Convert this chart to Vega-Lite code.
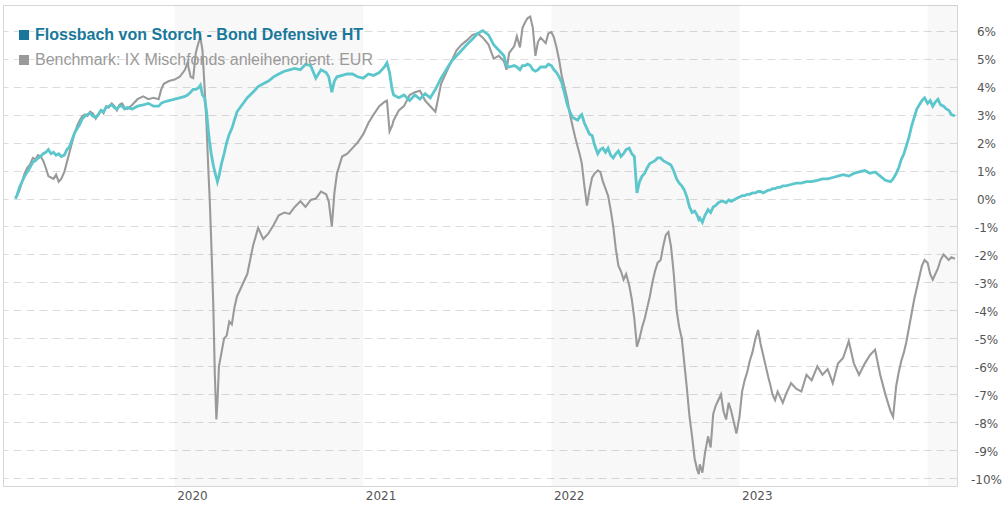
{
  "$schema": "https://vega.github.io/schema/vega-lite/v6.json",
  "width": 954,
  "height": 481,
  "autosize": {"type": "none"},
  "padding": {"left": 3, "top": 5, "right": 49, "bottom": 25},
  "background": "white",
  "config": {"view": {"stroke": "#d6d6d6", "strokeWidth": 1}, "font": "DejaVu Sans"},
  "datasets": {
    "bands": [
      {"s": "2020-01-01", "e": "2021-01-01"},
      {"s": "2022-01-01", "e": "2023-01-01"},
      {"s": "2024-01-01", "e": "2025-01-01"}
    ],
    "perf": [
      {"d":"2019-02-26","f":0.0,"b":0.0},
      {"d":"2019-03-01","f":0.1,"b":0.1},
      {"d":"2019-03-06","f":0.4,"b":0.3},
      {"d":"2019-03-11","f":0.6,"b":0.6},
      {"d":"2019-03-16","f":0.8,"b":0.9},
      {"d":"2019-03-21","f":0.95,"b":1.1},
      {"d":"2019-03-26","f":1.1,"b":1.2},
      {"d":"2019-04-01","f":1.3,"b":1.45},
      {"d":"2019-04-06","f":1.35,"b":1.4},
      {"d":"2019-04-11","f":1.45,"b":1.55},
      {"d":"2019-04-16","f":1.5,"b":1.5},
      {"d":"2019-04-21","f":1.6,"b":1.35},
      {"d":"2019-04-26","f":1.65,"b":1.1},
      {"d":"2019-05-01","f":1.75,"b":0.8},
      {"d":"2019-05-06","f":1.6,"b":0.75},
      {"d":"2019-05-11","f":1.65,"b":0.7},
      {"d":"2019-05-16","f":1.55,"b":0.85},
      {"d":"2019-05-21","f":1.6,"b":0.6},
      {"d":"2019-05-26","f":1.5,"b":0.7},
      {"d":"2019-06-01","f":1.55,"b":0.95},
      {"d":"2019-06-06","f":1.75,"b":1.3},
      {"d":"2019-06-11","f":1.85,"b":1.65},
      {"d":"2019-06-16","f":2.1,"b":2.0},
      {"d":"2019-06-21","f":2.35,"b":2.35},
      {"d":"2019-06-26","f":2.5,"b":2.6},
      {"d":"2019-07-01","f":2.65,"b":2.8},
      {"d":"2019-07-06","f":2.85,"b":2.95},
      {"d":"2019-07-11","f":2.95,"b":3.0},
      {"d":"2019-07-16","f":3.0,"b":2.95},
      {"d":"2019-07-21","f":3.05,"b":3.1},
      {"d":"2019-07-26","f":2.95,"b":3.05},
      {"d":"2019-08-01","f":2.9,"b":2.85},
      {"d":"2019-08-06","f":3.0,"b":3.0},
      {"d":"2019-08-11","f":3.15,"b":3.15},
      {"d":"2019-08-16","f":3.1,"b":3.05},
      {"d":"2019-08-21","f":3.25,"b":3.3},
      {"d":"2019-08-26","f":3.3,"b":3.25},
      {"d":"2019-09-01","f":3.35,"b":3.4},
      {"d":"2019-09-06","f":3.25,"b":3.3},
      {"d":"2019-09-11","f":3.2,"b":3.15},
      {"d":"2019-09-16","f":3.3,"b":3.35},
      {"d":"2019-09-21","f":3.3,"b":3.4},
      {"d":"2019-09-26","f":3.2,"b":3.25},
      {"d":"2019-10-01","f":3.25,"b":3.2},
      {"d":"2019-10-11","f":3.2,"b":3.35},
      {"d":"2019-10-21","f":3.3,"b":3.55},
      {"d":"2019-11-01","f":3.35,"b":3.65},
      {"d":"2019-11-11","f":3.4,"b":3.55},
      {"d":"2019-11-21","f":3.3,"b":3.6},
      {"d":"2019-12-01","f":3.3,"b":3.55},
      {"d":"2019-12-06","f":3.4,"b":3.9},
      {"d":"2019-12-11","f":3.45,"b":4.1},
      {"d":"2019-12-21","f":3.5,"b":4.2},
      {"d":"2020-01-01","f":3.55,"b":4.25},
      {"d":"2020-01-11","f":3.6,"b":4.35},
      {"d":"2020-01-21","f":3.65,"b":4.6},
      {"d":"2020-01-26","f":3.7,"b":4.85},
      {"d":"2020-02-01","f":3.8,"b":4.35},
      {"d":"2020-02-06","f":3.9,"b":4.3},
      {"d":"2020-02-11","f":3.9,"b":5.2},
      {"d":"2020-02-16","f":3.95,"b":5.55},
      {"d":"2020-02-20","f":4.05,"b":5.75},
      {"d":"2020-02-24","f":3.7,"b":5.3},
      {"d":"2020-02-28","f":3.6,"b":4.0},
      {"d":"2020-03-03","f":3.1,"b":2.6},
      {"d":"2020-03-06","f":2.5,"b":1.2},
      {"d":"2020-03-09","f":2.0,"b":0.0},
      {"d":"2020-03-12","f":1.6,"b":-1.5},
      {"d":"2020-03-16","f":1.2,"b":-3.8},
      {"d":"2020-03-19","f":0.95,"b":-6.3},
      {"d":"2020-03-22","f":0.75,"b":-7.9},
      {"d":"2020-03-24","f":0.6,"b":-7.3},
      {"d":"2020-03-27","f":0.8,"b":-6.0},
      {"d":"2020-04-01","f":1.25,"b":-5.5},
      {"d":"2020-04-06","f":1.6,"b":-5.0},
      {"d":"2020-04-11","f":2.0,"b":-4.9},
      {"d":"2020-04-16","f":2.3,"b":-4.4},
      {"d":"2020-04-21","f":2.5,"b":-4.5},
      {"d":"2020-04-26","f":2.8,"b":-3.9},
      {"d":"2020-05-01","f":3.1,"b":-3.5},
      {"d":"2020-05-11","f":3.35,"b":-3.1},
      {"d":"2020-05-21","f":3.6,"b":-2.7},
      {"d":"2020-06-01","f":3.8,"b":-1.7},
      {"d":"2020-06-11","f":4.0,"b":-1.05},
      {"d":"2020-06-21","f":4.1,"b":-1.45},
      {"d":"2020-07-01","f":4.2,"b":-1.25},
      {"d":"2020-07-11","f":4.35,"b":-0.95},
      {"d":"2020-07-21","f":4.45,"b":-0.6},
      {"d":"2020-08-01","f":4.55,"b":-0.5},
      {"d":"2020-08-11","f":4.6,"b":-0.55},
      {"d":"2020-08-21","f":4.65,"b":-0.3},
      {"d":"2020-09-01","f":4.6,"b":-0.1},
      {"d":"2020-09-11","f":4.8,"b":-0.3},
      {"d":"2020-09-21","f":4.75,"b":-0.05},
      {"d":"2020-10-01","f":4.3,"b":0.0},
      {"d":"2020-10-11","f":4.6,"b":0.25},
      {"d":"2020-10-21","f":4.5,"b":0.15},
      {"d":"2020-10-26","f":4.35,"b":-0.1},
      {"d":"2020-11-01","f":3.8,"b":-1.0},
      {"d":"2020-11-06","f":4.2,"b":0.2},
      {"d":"2020-11-11","f":4.35,"b":0.9},
      {"d":"2020-11-21","f":4.4,"b":1.5},
      {"d":"2020-12-01","f":4.45,"b":1.6},
      {"d":"2020-12-11","f":4.45,"b":1.8},
      {"d":"2020-12-21","f":4.35,"b":2.0},
      {"d":"2021-01-01","f":4.3,"b":2.3},
      {"d":"2021-01-11","f":4.45,"b":2.7},
      {"d":"2021-01-21","f":4.4,"b":3.0},
      {"d":"2021-02-01","f":4.5,"b":3.3},
      {"d":"2021-02-11","f":4.7,"b":3.45},
      {"d":"2021-02-16","f":4.85,"b":3.5},
      {"d":"2021-02-21","f":4.5,"b":2.4},
      {"d":"2021-02-26","f":3.9,"b":2.6},
      {"d":"2021-03-01","f":3.7,"b":2.8},
      {"d":"2021-03-11","f":3.6,"b":3.15},
      {"d":"2021-03-21","f":3.7,"b":3.3},
      {"d":"2021-04-01","f":3.5,"b":3.7},
      {"d":"2021-04-11","f":3.7,"b":3.8},
      {"d":"2021-04-21","f":3.55,"b":3.85},
      {"d":"2021-05-01","f":3.75,"b":3.5},
      {"d":"2021-05-11","f":3.6,"b":3.3},
      {"d":"2021-05-21","f":3.9,"b":3.1},
      {"d":"2021-06-01","f":4.3,"b":4.1},
      {"d":"2021-06-11","f":4.6,"b":4.5},
      {"d":"2021-06-21","f":4.9,"b":4.9},
      {"d":"2021-07-01","f":5.1,"b":5.3},
      {"d":"2021-07-11","f":5.3,"b":5.5},
      {"d":"2021-07-21","f":5.5,"b":5.65},
      {"d":"2021-08-01","f":5.7,"b":5.85},
      {"d":"2021-08-11","f":5.9,"b":5.9},
      {"d":"2021-08-21","f":6.0,"b":5.75},
      {"d":"2021-09-01","f":5.85,"b":5.5},
      {"d":"2021-09-11","f":5.5,"b":5.0},
      {"d":"2021-09-21","f":5.3,"b":5.1},
      {"d":"2021-10-01","f":5.1,"b":4.9},
      {"d":"2021-10-06","f":4.75,"b":4.6},
      {"d":"2021-10-11","f":4.7,"b":5.2},
      {"d":"2021-10-21","f":4.75,"b":5.45},
      {"d":"2021-10-26","f":4.7,"b":5.8},
      {"d":"2021-11-01","f":4.6,"b":5.4},
      {"d":"2021-11-06","f":4.75,"b":6.1},
      {"d":"2021-11-11","f":4.75,"b":6.3},
      {"d":"2021-11-16","f":4.8,"b":6.45},
      {"d":"2021-11-21","f":4.75,"b":6.5},
      {"d":"2021-11-26","f":4.6,"b":6.1},
      {"d":"2021-12-01","f":4.55,"b":5.1},
      {"d":"2021-12-06","f":4.6,"b":5.6},
      {"d":"2021-12-11","f":4.7,"b":5.75},
      {"d":"2021-12-21","f":4.7,"b":5.55},
      {"d":"2021-12-26","f":4.8,"b":5.9},
      {"d":"2022-01-01","f":4.75,"b":5.95},
      {"d":"2022-01-06","f":4.6,"b":5.75},
      {"d":"2022-01-11","f":4.5,"b":5.4},
      {"d":"2022-01-16","f":4.35,"b":4.95},
      {"d":"2022-01-21","f":4.15,"b":4.4},
      {"d":"2022-01-26","f":3.8,"b":4.0},
      {"d":"2022-02-01","f":3.35,"b":3.55},
      {"d":"2022-02-06","f":3.1,"b":3.0},
      {"d":"2022-02-11","f":2.9,"b":2.6},
      {"d":"2022-02-16","f":2.85,"b":2.2},
      {"d":"2022-02-21","f":2.8,"b":1.85},
      {"d":"2022-02-26","f":2.95,"b":1.5},
      {"d":"2022-03-01","f":3.0,"b":1.25},
      {"d":"2022-03-06","f":2.7,"b":0.45},
      {"d":"2022-03-11","f":2.5,"b":-0.25},
      {"d":"2022-03-16","f":2.3,"b":0.3},
      {"d":"2022-03-21","f":2.25,"b":0.75},
      {"d":"2022-03-26","f":1.9,"b":0.9},
      {"d":"2022-04-01","f":1.6,"b":1.0},
      {"d":"2022-04-06","f":1.75,"b":0.95},
      {"d":"2022-04-11","f":1.8,"b":0.6},
      {"d":"2022-04-16","f":1.65,"b":0.35},
      {"d":"2022-04-21","f":1.8,"b":0.1},
      {"d":"2022-04-26","f":1.55,"b":-0.4},
      {"d":"2022-05-01","f":1.45,"b":-1.0},
      {"d":"2022-05-06","f":1.6,"b":-1.8},
      {"d":"2022-05-11","f":1.7,"b":-2.4},
      {"d":"2022-05-16","f":1.5,"b":-2.6},
      {"d":"2022-05-21","f":1.6,"b":-2.9},
      {"d":"2022-05-26","f":1.75,"b":-2.7},
      {"d":"2022-06-01","f":1.8,"b":-3.1},
      {"d":"2022-06-06","f":1.6,"b":-3.6},
      {"d":"2022-06-11","f":1.5,"b":-4.3},
      {"d":"2022-06-16","f":0.2,"b":-5.3},
      {"d":"2022-06-21","f":0.6,"b":-5.0},
      {"d":"2022-06-26","f":0.8,"b":-4.6},
      {"d":"2022-07-01","f":0.9,"b":-4.3},
      {"d":"2022-07-06","f":1.1,"b":-3.9},
      {"d":"2022-07-11","f":1.25,"b":-3.5},
      {"d":"2022-07-16","f":1.3,"b":-3.0},
      {"d":"2022-07-21","f":1.35,"b":-2.6},
      {"d":"2022-07-26","f":1.45,"b":-2.3},
      {"d":"2022-08-01","f":1.45,"b":-2.2},
      {"d":"2022-08-06","f":1.35,"b":-1.7},
      {"d":"2022-08-11","f":1.3,"b":-1.3},
      {"d":"2022-08-16","f":1.25,"b":-1.2},
      {"d":"2022-08-21","f":1.2,"b":-1.7},
      {"d":"2022-08-26","f":1.0,"b":-2.6},
      {"d":"2022-09-01","f":0.7,"b":-4.0},
      {"d":"2022-09-06","f":0.55,"b":-4.6},
      {"d":"2022-09-11","f":0.45,"b":-5.0},
      {"d":"2022-09-16","f":0.3,"b":-5.9},
      {"d":"2022-09-21","f":0.05,"b":-6.8},
      {"d":"2022-09-26","f":-0.3,"b":-7.8},
      {"d":"2022-10-01","f":-0.5,"b":-8.5},
      {"d":"2022-10-06","f":-0.45,"b":-9.3},
      {"d":"2022-10-11","f":-0.6,"b":-9.7},
      {"d":"2022-10-14","f":-0.75,"b":-9.85},
      {"d":"2022-10-16","f":-0.7,"b":-9.5},
      {"d":"2022-10-21","f":-0.85,"b":-9.8},
      {"d":"2022-10-26","f":-0.6,"b":-9.1},
      {"d":"2022-11-01","f":-0.4,"b":-8.5},
      {"d":"2022-11-06","f":-0.5,"b":-8.9},
      {"d":"2022-11-11","f":-0.3,"b":-7.7},
      {"d":"2022-11-16","f":-0.25,"b":-7.4},
      {"d":"2022-11-21","f":-0.15,"b":-7.2},
      {"d":"2022-11-26","f":-0.1,"b":-7.0},
      {"d":"2022-12-01","f":-0.1,"b":-7.6},
      {"d":"2022-12-06","f":-0.15,"b":-7.9},
      {"d":"2022-12-11","f":-0.05,"b":-7.3},
      {"d":"2022-12-16","f":-0.1,"b":-7.6},
      {"d":"2022-12-21","f":-0.05,"b":-8.0},
      {"d":"2022-12-26","f":0.0,"b":-8.4},
      {"d":"2023-01-01","f":0.05,"b":-7.8},
      {"d":"2023-01-06","f":0.1,"b":-6.9},
      {"d":"2023-01-11","f":0.1,"b":-6.5},
      {"d":"2023-01-16","f":0.15,"b":-6.2},
      {"d":"2023-01-21","f":0.15,"b":-5.8},
      {"d":"2023-01-26","f":0.2,"b":-5.5},
      {"d":"2023-02-01","f":0.2,"b":-5.0},
      {"d":"2023-02-06","f":0.25,"b":-4.7},
      {"d":"2023-02-11","f":0.25,"b":-5.2},
      {"d":"2023-02-16","f":0.2,"b":-5.6},
      {"d":"2023-02-21","f":0.25,"b":-6.0},
      {"d":"2023-02-26","f":0.3,"b":-6.4},
      {"d":"2023-03-01","f":0.3,"b":-6.6},
      {"d":"2023-03-06","f":0.35,"b":-7.0},
      {"d":"2023-03-11","f":0.35,"b":-7.2},
      {"d":"2023-03-16","f":0.4,"b":-6.9},
      {"d":"2023-03-21","f":0.4,"b":-7.1},
      {"d":"2023-03-26","f":0.45,"b":-7.3},
      {"d":"2023-04-01","f":0.45,"b":-7.0},
      {"d":"2023-04-11","f":0.5,"b":-6.6},
      {"d":"2023-04-21","f":0.55,"b":-6.8},
      {"d":"2023-05-01","f":0.55,"b":-6.9},
      {"d":"2023-05-11","f":0.6,"b":-6.3},
      {"d":"2023-05-21","f":0.6,"b":-6.5},
      {"d":"2023-06-01","f":0.65,"b":-6.0},
      {"d":"2023-06-11","f":0.7,"b":-6.3},
      {"d":"2023-06-21","f":0.7,"b":-6.1},
      {"d":"2023-07-01","f":0.75,"b":-6.6},
      {"d":"2023-07-11","f":0.8,"b":-5.9},
      {"d":"2023-07-21","f":0.85,"b":-5.7},
      {"d":"2023-08-01","f":0.8,"b":-5.1},
      {"d":"2023-08-06","f":0.85,"b":-5.5},
      {"d":"2023-08-11","f":0.9,"b":-5.9},
      {"d":"2023-08-21","f":0.95,"b":-6.3},
      {"d":"2023-09-01","f":1.0,"b":-5.9},
      {"d":"2023-09-11","f":0.9,"b":-5.6},
      {"d":"2023-09-21","f":0.95,"b":-5.4},
      {"d":"2023-10-01","f":0.8,"b":-6.3},
      {"d":"2023-10-11","f":0.65,"b":-7.0},
      {"d":"2023-10-21","f":0.6,"b":-7.6},
      {"d":"2023-10-26","f":0.7,"b":-7.8},
      {"d":"2023-11-01","f":0.9,"b":-6.7},
      {"d":"2023-11-06","f":1.1,"b":-6.2},
      {"d":"2023-11-11","f":1.4,"b":-5.8},
      {"d":"2023-11-16","f":1.6,"b":-5.5},
      {"d":"2023-11-21","f":1.9,"b":-5.1},
      {"d":"2023-11-26","f":2.2,"b":-4.6},
      {"d":"2023-12-01","f":2.6,"b":-4.1},
      {"d":"2023-12-06","f":2.9,"b":-3.6},
      {"d":"2023-12-11","f":3.2,"b":-3.2},
      {"d":"2023-12-16","f":3.35,"b":-2.8},
      {"d":"2023-12-21","f":3.5,"b":-2.4},
      {"d":"2023-12-26","f":3.6,"b":-2.2},
      {"d":"2024-01-01","f":3.4,"b":-2.3},
      {"d":"2024-01-06","f":3.5,"b":-2.7},
      {"d":"2024-01-11","f":3.3,"b":-2.9},
      {"d":"2024-01-16","f":3.45,"b":-2.7},
      {"d":"2024-01-21","f":3.55,"b":-2.5},
      {"d":"2024-01-26","f":3.35,"b":-2.2},
      {"d":"2024-02-01","f":3.3,"b":-2.0},
      {"d":"2024-02-06","f":3.2,"b":-2.1},
      {"d":"2024-02-11","f":3.15,"b":-2.2},
      {"d":"2024-02-16","f":3.0,"b":-2.1},
      {"d":"2024-02-23","f":2.95,"b":-2.15}
    ]
  },
  "layer": [
    {
      "data": {"name": "bands"},
      "mark": {"type": "rect", "color": "#000000", "opacity": 0.028, "clip": true},
      "encoding": {
        "x": {
          "field": "s",
          "type": "temporal",
          "scale": {
            "type": "utc",
            "domain": [
              {"year": 2019, "month": 2, "date": 2, "utc": true},
              {"year": 2024, "month": 2, "date": 27, "utc": true}
            ]
          },
          "axis": {
            "values": [
              {"year": 2020, "month": 1, "date": 1, "utc": true},
              {"year": 2021, "month": 1, "date": 1, "utc": true},
              {"year": 2022, "month": 1, "date": 1, "utc": true},
              {"year": 2023, "month": 1, "date": 1, "utc": true}
            ],
            "format": "%Y",
            "title": null,
            "grid": false,
            "ticks": false,
            "domain": false,
            "labelAlign": "left",
            "labelBaseline": "top",
            "labelOffset": 2,
            "labelPadding": 4,
            "labelFlush": false,
            "labelFont": "DejaVu Sans",
            "labelFontSize": 12,
            "labelColor": "#555555"
          }
        },
        "x2": {"field": "e"}
      }
    },
    {
      "data": {"name": "perf"},
      "mark": {"type": "line", "strokeWidth": 2.1, "clip": true},
      "encoding": {
        "x": {"field": "d", "type": "temporal"},
        "y": {
          "field": "b",
          "type": "quantitative",
          "scale": {"domain": [-10.275, 6.916], "nice": false, "zero": false},
          "axis": {
            "orient": "right",
            "title": null,
            "values": [-10, -9, -8, -7, -6, -5, -4, -3, -2, -1, 0, 1, 2, 3, 4, 5, 6],
            "labelExpr": "datum.value + '%'",
            "domain": false,
            "ticks": false,
            "grid": true,
            "gridColor": "#dcdcdc",
            "gridDash": [8, 5],
            "gridWidth": 1,
            "labelAlign": "center",
            "labelBaseline": "middle",
            "labelPadding": 29,
            "labelOffset": 1,
            "labelFont": "DejaVu Sans",
            "labelFontSize": 12,
            "labelColor": "#555555",
            "labelOverlap": false
          }
        },
        "color": {
          "datum": "Benchmark: IX Mischfonds anleihenorient. EUR",
          "scale": {
            "domain": ["Flossbach von Storch - Bond Defensive HT", "Benchmark: IX Mischfonds anleihenorient. EUR"],
            "range": ["#5cc6cd", "#9a9a9a"]
          },
          "legend": {
            "orient": "none",
            "legendX": 13,
            "legendY": 22,
            "title": null,
            "padding": 0,
            "symbolType": "square",
            "symbolSize": 100,
            "symbolStrokeWidth": 0,
            "symbolFillColor": {"expr": "datum.value == 'Benchmark: IX Mischfonds anleihenorient. EUR' ? '#9a9a9a' : '#17789b'"},
            "labelColor": {"expr": "datum.value == 'Benchmark: IX Mischfonds anleihenorient. EUR' ? '#9a9a9a' : '#17789b'"},
            "labelFontWeight": {"expr": "datum.value == 'Benchmark: IX Mischfonds anleihenorient. EUR' ? 'normal' : 'bold'"},
            "labelFont": "Liberation Sans",
            "labelFontSize": 16,
            "labelOffset": 3,
            "labelLimit": 500,
            "rowPadding": 9
          }
        }
      }
    },
    {
      "data": {"name": "perf"},
      "mark": {"type": "line", "strokeWidth": 2.8, "clip": true},
      "encoding": {
        "x": {"field": "d", "type": "temporal"},
        "y": {
          "field": "f",
          "type": "quantitative",
          "axis": {
            "orient": "right",
            "title": null,
            "values": [-10, -9, -8, -7, -6, -5, -4, -3, -2, -1, 0, 1, 2, 3, 4, 5, 6],
            "labelExpr": "datum.value + '%'",
            "domain": false,
            "ticks": false,
            "grid": true,
            "gridColor": "#dcdcdc",
            "gridDash": [8, 5],
            "gridWidth": 1,
            "labelAlign": "center",
            "labelBaseline": "middle",
            "labelPadding": 29,
            "labelOffset": 1,
            "labelFont": "DejaVu Sans",
            "labelFontSize": 12,
            "labelColor": "#555555",
            "labelOverlap": false
          }
        },
        "color": {"datum": "Flossbach von Storch - Bond Defensive HT"}
      }
    }
  ]
}
